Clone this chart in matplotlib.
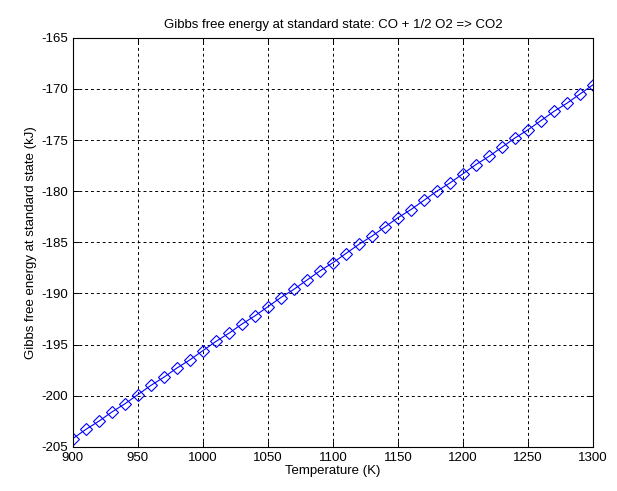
import matplotlib
matplotlib.use('Agg')
import matplotlib.pyplot as plt

# Temperature (K) and Gibbs free energy (kJ)
temperature = [900, 910, 920, 930, 940, 950, 960, 970, 980, 990,
               1000, 1010, 1020, 1030, 1040, 1050, 1060, 1070, 1080, 1090,
               1100, 1110, 1120, 1130, 1140, 1150, 1160, 1170, 1180, 1190,
               1200, 1210, 1220, 1230, 1240, 1250, 1260, 1270, 1280, 1290, 1300]
gibbs = [-204.2, -203.3, -202.5, -201.6, -200.8, -199.9, -199.0, -198.2, -197.3, -196.5,
         -195.6, -194.7, -193.9, -193.0, -192.2, -191.3, -190.4, -189.6, -188.7, -187.8,
         -187.0, -186.1, -185.2, -184.4, -183.5, -182.6, -181.8, -180.9, -180.0, -179.2,
         -178.3, -177.4, -176.6, -175.7, -174.8, -174.0, -173.1, -172.2, -171.4, -170.5, -169.6]

xticks = [900, 950, 1000, 1050, 1100, 1150, 1200, 1250, 1300]
yticks = [-205, -200, -195, -190, -185, -180, -175, -170, -165]

plt.rcParams['font.family'] = ['Liberation Sans', 'DejaVu Sans']
plt.rcParams['font.size'] = 9.5
plt.rcParams['axes.unicode_minus'] = False

fig = plt.figure(figsize=(6.17, 4.91), dpi=100)
ax = fig.add_axes([0.118, 0.09, 0.843, 0.833])

ax.plot(temperature, gibbs, color='blue', linewidth=0.8, marker='D',
        markersize=6.5, markerfacecolor='none', markeredgecolor='blue',
        markeredgewidth=0.8)

ax.set_xlim(900, 1300)
ax.set_ylim(-205, -165)
ax.set_xticks(xticks)
ax.set_yticks(yticks)
ax.grid(True, color='black', linestyle=(0, (3, 3)), linewidth=0.7)
ax.tick_params(direction='in', length=4, width=0.7, top=True, right=True)
for s in ax.spines.values():
    s.set_linewidth(0.8)

ax.set_xlabel('Temperature (K)', labelpad=1)
ax.set_ylabel('Gibbs free energy at standard state (kJ)', labelpad=3)
ax.set_title('Gibbs free energy at standard state: CO + 1/2 O2 => CO2', fontsize=9.5, pad=7)

fig.savefig('out.png', dpi=100)
